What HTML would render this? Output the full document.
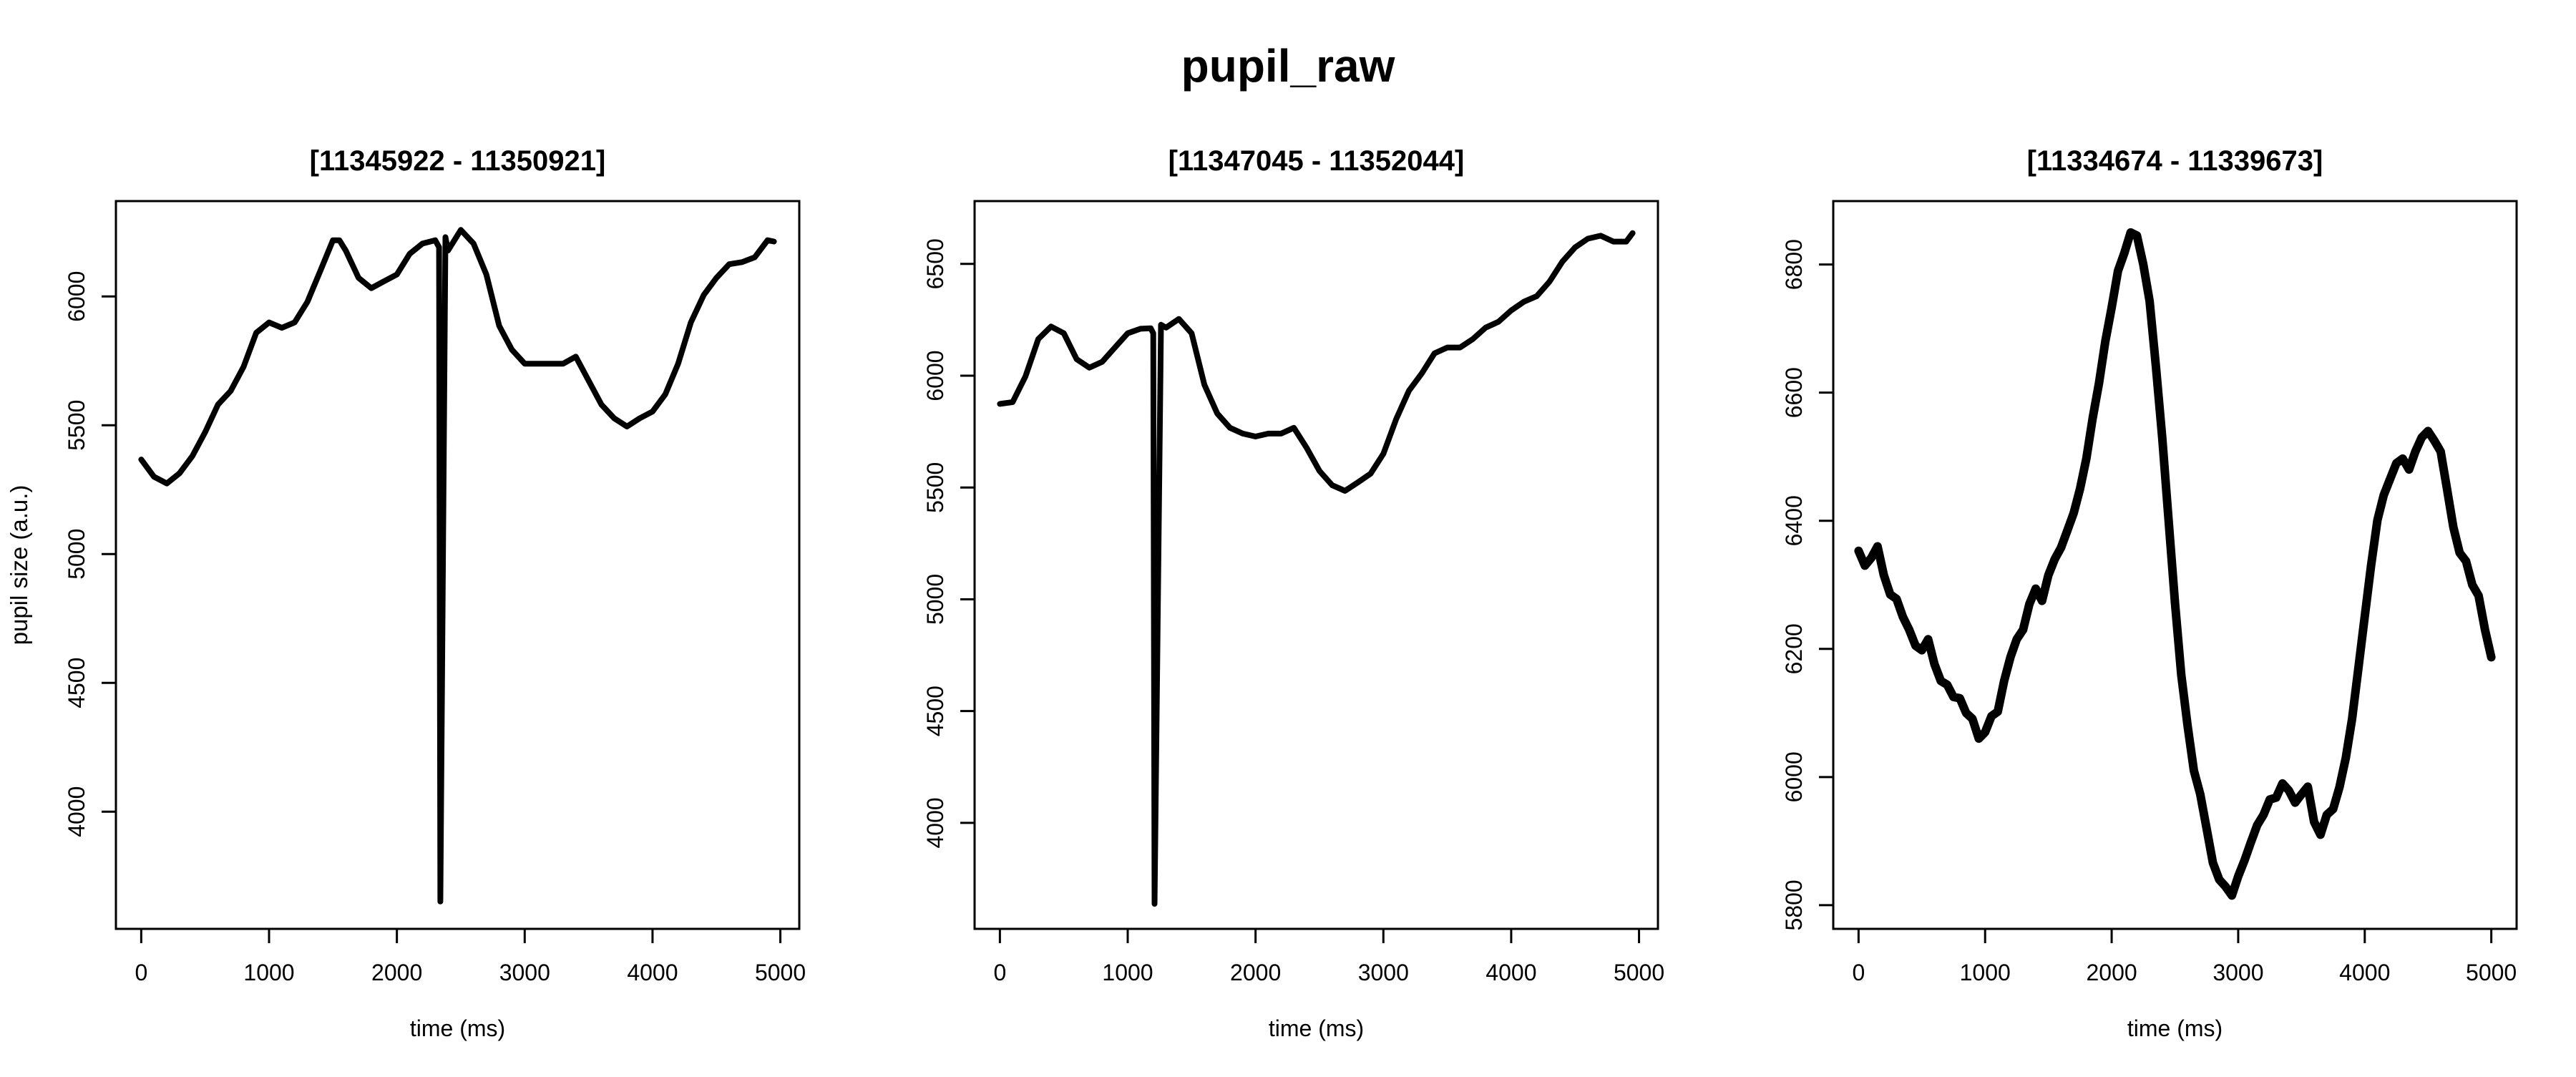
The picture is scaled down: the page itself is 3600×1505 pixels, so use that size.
<!DOCTYPE html>
<html><head><meta charset="utf-8"><style>
body{margin:0;background:#fff}
svg text{font-family:"Liberation Sans",Arial,sans-serif;fill:#000}
</style></head><body>
<svg id="chart" width="3600" height="1500" viewBox="0 0 3600 1500" xmlns="http://www.w3.org/2000/svg">
<text x="1800" y="114" font-size="64" font-weight="bold" text-anchor="middle">pupil_raw</text>
<g id="plots"></g>
</svg>
<script>
const titles = ["[11345922 - 11350921]", "[11347045 - 11352044]", "[11334674 - 11339673]"];
const xTicks = [0, 1000, 2000, 3000, 4000, 5000];
const yTicks1 = [4000, 4500, 5000, 5500, 6000];
const yTicks2 = [4000, 4500, 5000, 5500, 6000, 6500];
const yTicks3 = [5800, 6000, 6200, 6400, 6600, 6800];
const yLim1 = [3545, 6370];
const yLim2 = [3526, 6781];
const yLim3 = [5763, 6899];
const t1 = [0,100,200,300,400,500,600,700,800,900,1000,1100,1200,1300,1400,1500,1550,1600,1700,1800,1900,2000,2100,2200,2300,2330,2340,2380,2400,2500,2600,2700,2800,2900,3000,3100,3200,3300,3400,3500,3600,3700,3800,3900,4000,4100,4200,4300,4400,4500,4600,4700,4800,4900,4950];
const v1 = [5367,5300,5274,5314,5380,5473,5580,5633,5726,5859,5899,5878,5899,5979,6098,6218,6218,6178,6072,6032,6059,6085,6165,6205,6218,6191,3651,6230,6178,6258,6205,6085,5886,5793,5739,5739,5739,5739,5766,5673,5580,5527,5495,5527,5553,5620,5739,5899,6005,6072,6125,6133,6152,6218,6213];
const t2 = [0,100,200,300,400,500,600,700,800,900,1000,1100,1180,1200,1210,1260,1300,1400,1500,1600,1700,1800,1900,2000,2100,2200,2300,2400,2500,2600,2700,2800,2900,3000,3100,3200,3300,3400,3500,3600,3700,3800,3900,4000,4100,4200,4300,4400,4500,4600,4700,4800,4900,4950];
const v2 = [5874,5882,5997,6164,6220,6190,6074,6036,6062,6126,6190,6210,6212,6190,3638,6228,6215,6254,6190,5959,5831,5767,5741,5728,5741,5741,5767,5677,5574,5510,5485,5523,5562,5651,5805,5933,6010,6100,6126,6126,6164,6215,6241,6292,6331,6356,6421,6510,6574,6613,6626,6600,6600,6638];
const t3 = [0,50,100,150,200,250,300,350,400,450,500,550,600,650,700,750,800,850,900,950,1000,1050,1100,1150,1200,1250,1300,1350,1400,1450,1500,1550,1600,1650,1700,1750,1800,1850,1900,1950,2000,2050,2100,2150,2200,2250,2300,2350,2400,2450,2500,2550,2600,2650,2700,2750,2800,2850,2900,2950,3000,3050,3100,3150,3200,3250,3300,3350,3400,3450,3500,3550,3600,3650,3700,3750,3800,3850,3900,3950,4000,4050,4100,4150,4200,4250,4300,4350,4400,4450,4500,4550,4600,4650,4700,4750,4800,4850,4900,4950,5000];
const v3 = [6353,6330,6342,6360,6315,6285,6278,6250,6230,6205,6198,6215,6176,6150,6144,6125,6123,6100,6091,6060,6070,6095,6102,6150,6187,6215,6230,6270,6294,6275,6315,6340,6358,6385,6412,6450,6497,6560,6615,6680,6733,6790,6818,6850,6845,6800,6743,6640,6529,6400,6273,6160,6080,6010,5973,5920,5866,5840,5829,5815,5845,5870,5898,5925,5941,5965,5968,5990,5979,5960,5973,5985,5930,5910,5941,5950,5984,6030,6091,6170,6251,6330,6401,6440,6465,6490,6497,6480,6508,6530,6540,6525,6508,6450,6390,6350,6337,6300,6283,6230,6187];

const tsArr = [t1, t2, t3];
const vsArr = [v1, v2, v3];
const yTicksArr = [yTicks1, yTicks2, yTicks3];
const yLimArr = [yLim1, yLim2, yLim3];
const xLimArr = [[-198, 5148], [-198, 5148], [-200, 5200]];
const NS = "http://www.w3.org/2000/svg";
const root = document.getElementById("plots");
function mk(tag, attrs, parent) {
  const e = document.createElementNS(NS, tag);
  for (const k in attrs) e.setAttribute(k, attrs[k]);
  parent.appendChild(e);
  return e;
}
const L = 162, R = 1117, T = 281, B = 1298;
for (let p = 0; p < 3; p++) {
  const off = p * 1200;
  const xl = xLimArr[p], yl = yLimArr[p];
  const sx = v => off + L + (v - xl[0]) / (xl[1] - xl[0]) * (R - L);
  const sy = v => B - (v - yl[0]) / (yl[1] - yl[0]) * (B - T);
  const g = mk("g", {}, root);
  
  
  const tt = mk("text", {x: off + (L + R) / 2, y: 238, "font-size": 40, "font-weight": "bold", "text-anchor": "middle"}, g);
  tt.textContent = titles[p];
  
  
  const box = mk("rect", {x: off + L, y: T, width: R - L, height: B - T, fill: "none", stroke: "#000", "stroke-width": 3}, g);
  
  
  const xa = mk("g", {}, g);
  
  
  mk("line", {x1: sx(xTicks[0]), x2: sx(xTicks[xTicks.length - 1]), y1: B, y2: B, stroke: "#000", "stroke-width": 3}, xa);
  xTicks.forEach(v => {
    const ln = mk("line", {x1: sx(v), x2: sx(v), y1: B, y2: B + 20, stroke: "#000", "stroke-width": 3}, xa);
    
    
    const tx = mk("text", {x: sx(v), y: 1370, "font-size": 32, "text-anchor": "middle"}, xa);
    tx.textContent = v;
    
    
  });
  const xt = mk("text", {x: off + (L + R) / 2, y: 1448, "font-size": 32, "text-anchor": "middle"}, g);
  xt.textContent = "time (ms)";
  
  
  const ya = mk("g", {}, g);
  
  
  const yt = yTicksArr[p];
  mk("line", {x1: off + L, x2: off + L, y1: sy(yt[0]), y2: sy(yt[yt.length - 1]), stroke: "#000", "stroke-width": 3}, ya);
  yt.forEach(v => {
    const ln = mk("line", {x1: off + L - 20, x2: off + L, y1: sy(v), y2: sy(v), stroke: "#000", "stroke-width": 3}, ya);
    
    
    const tx = mk("text", {x: 0, y: 0, "font-size": 32, "text-anchor": "middle", transform: "translate(" + (off + 118) + "," + sy(v) + ") rotate(-90)"}, ya);
    tx.textContent = v;
    
    
  });
  if (p === 0) {
    const yl2 = mk("text", {x: 0, y: 0, "font-size": 33, "text-anchor": "middle", transform: "translate(38," + ((T + B) / 2) + ") rotate(-90)"}, g);
    yl2.textContent = "pupil size (a.u.)";
    
    
  }
  const ts = tsArr[p], vs = vsArr[p];
  let d = "";
  for (let i = 0; i < ts.length; i++) d += (i ? "L" : "M") + sx(ts[i]).toFixed(1) + "," + sy(vs[i]).toFixed(1);
  const path = mk("path", {d: d, fill: "none", stroke: "#000", "stroke-width": p === 2 ? 12 : 8, "stroke-linejoin": "round", "stroke-linecap": "round"}, g);
  
  
}
</script>
</body></html>
